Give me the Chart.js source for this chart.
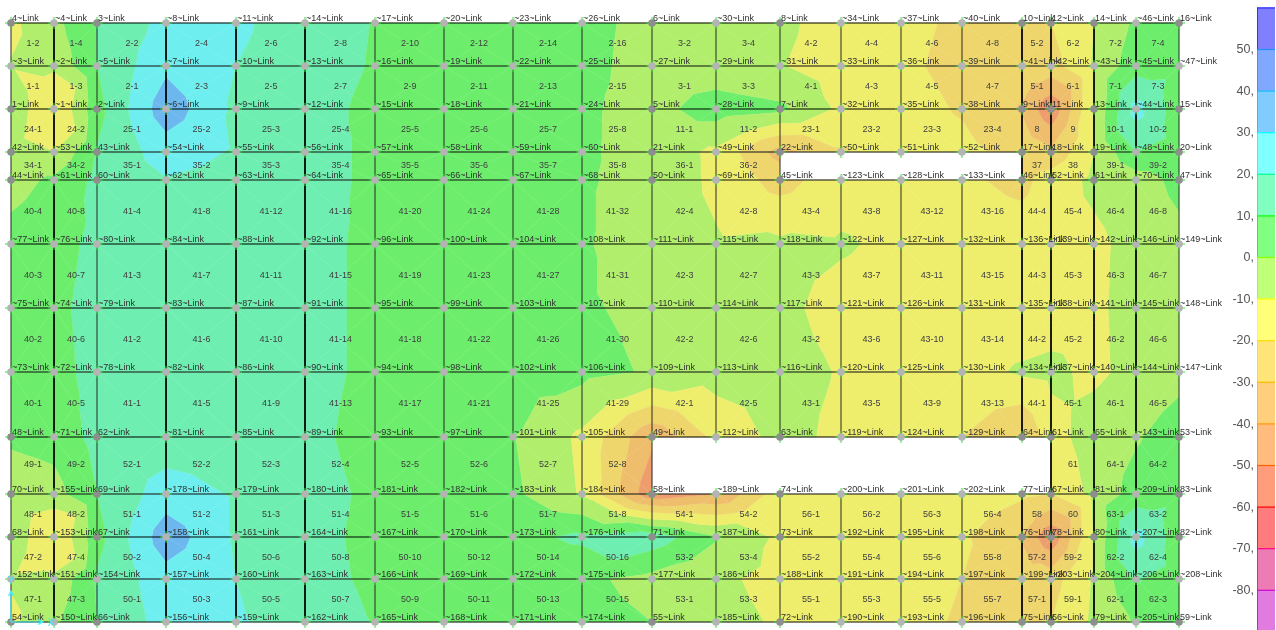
<!DOCTYPE html>
<html><head><meta charset="utf-8">
<style>html,body{margin:0;padding:0;background:#fff;overflow:hidden}#w{width:1276px;height:630px;position:relative}canvas{filter:blur(0.3px)}</style>
<script src="https://cdn.jsdelivr.net/npm/chart.js@4"></script></head>
<body><div id="w"><canvas id="c"></canvas></div>
<script>
// Model grid coordinates (m)
const gridX=[0,2.15,4.3,7.75,11.25,14.7,18.2,21.65,25.1,28.55,32.05,35.25,38.45,41.5,44.5,47.55,50.55,52,54.15,56.25,58.4];
const gridY=[29.95,27.8,25.65,23.5,22.1,18.9,15.7,12.5,9.25,6.4,4.25,2.15,0];
// Stress values at the nodes, one row per gridY
const row0=[-12,-3,10.5,23,21.5,16,9.5,7,6,3,-3,-6,-8,-14,-17,-22,-24,-20,-10,2,6];
const row1=[-9.5,-8,10,28,20,16,9,7,6,3,-4,-6,-9.5,-14,-18,-23,-24,-24,-9,6,7];
const row2=[-2,-21.5,7,36,18,15,7,5,4,1.5,-3.5,5,2,-12,-16,-21,-31,-48,-9,24,4];
const row3=[-5,-9.9,10.5,25,19,14,8,6,4,1.5,-4,-12,-34,-21,-15,-17,-24,-28,-10,10,5];
const row4=[-4,2,12.4,19.5,17,14,8,6,4,1,-3,-12,-24,-14,-14,-18,-23,-15,-8,-5,3];
const row5=[4,7,12,16,16,13,8,6,4,1,-5,-9,-8,-9,-12,-13,-14,-13,-12,-7,-3];
const row6=[3,8,13,16,16,13,8,6,4,1,-2,-5,-8,-13,-14,-14,-15,-14,-12,-6,-4];
const row7=[3,7,13,16,15,13,8,6,4,3,-1,-6,-7,-10.5,-13,-13,-9,-8,-12,-7,-3];
const row8=[2,4,13,14,14,13,6,5,0.5,-12,-38,-17,-7,-12,-15,-20,-31,-14,-5,-1,5];
const row9=[-7,-4,10,25,19,14,8,6,2,-11,-47,-40,-14,-14,-14,-14,-18,-20,-7,4,7];
const row10=[-2,-21.5,7,36,19,14,7,6,7,12,16,1,-12,-15,-16,-18,-31,-48,-9,24,4];
const row11=[-9,-8,11,26,20,14,8,6,4,2,-3,-8,-13,-14,-16,-20,-25,-24,-9,11,5];
const row12=[-12,-2,10,24,21,16,9.5,7,6,3,0,-7,-11,-14,-17,-21,-24,-20,-8,1,5];
const nodeValues=[row0,row1,row2,row3,row4,row5,row6,row7,row8,row9,row10,row11,row12];
// Values read at shell centres where they differ from the mean of the corners: [row, column, value]
const centreValues=[[1,0,-12],[1,1,-10],[2,0,-13],[2,1,-10],[9,0,-10.5],[9,1,-10],[10,0,-13],[10,1,-10],
 [1,18,6],[1,19,12],[2,18,9],[2,19,13],[9,18,6],[9,19,12],[10,18,9],[10,19,13],
 [1,17,-29],[9,17,-28],[10,9,11]];
// Node labels
const nodes0=["4","~4","3","~8","~11","~14","~17","~20","~23","~26","6","~30","8","~34","~37","~40","10","12","14","~46","16"];
const nodes1=["~3","~2","~5","~7","~10","~13","~16","~19","~22","~25","~27","~29","~31","~33","~36","~39","~41","~42","~43","~45","~47"];
const nodes2=["1","~1","2","~6","~9","~12","~15","~18","~21","~24","5","~28","7","~32","~35","~38","9","11","13","~44","15"];
const nodes3=["42","~53","43","~54","~55","~56","~57","~58","~59","~60","21","~49","22","~50","~51","~52","17","18","19","~48","20"];
const nodes4=["44","~61","60","~62","~63","~64","~65","~66","~67","~68","50","~69","45","~123","~128","~133","46","52","61","~70","47"];
const nodes5=["~77","~76","~80","~84","~88","~92","~96","~100","~104","~108","~111","~115","~118","~122","~127","~132","~136","~139","~142","~146","~149"];
const nodes6=["~75","~74","~79","~83","~87","~91","~95","~99","~103","~107","~110","~114","~117","~121","~126","~131","~135","~138","~141","~145","~148"];
const nodes7=["~73","~72","~78","~82","~86","~90","~94","~98","~102","~106","~109","~113","~116","~120","~125","~130","~134","~137","~140","~144","~147"];
const nodes8=["48","~71","62","~81","~85","~89","~93","~97","~101","~105","49","~112","63","~119","~124","~129","64","61","65","~143","53"];
const nodes9=["70","~155","69","~178","~179","~180","~181","~182","~183","~184","58","~189","74","~200","~201","~202","77","67","81","~209","83"];
const nodes10=["68","~153","67","~158","~161","~164","~167","~170","~173","~176","71","~187","73","~192","~195","~198","76","78","80","~207","82"];
const nodes11=["~152","~151","~154","~157","~160","~163","~166","~169","~172","~175","~177","~186","~188","~191","~194","~197","~199","~203","~204","~206","~208"];
const nodes12=["54","~150","66","~156","~159","~162","~165","~168","~171","~174","55","~185","72","~190","~193","~196","75","56","79","~205","59"];
const nodeNames=[nodes0,nodes1,nodes2,nodes3,nodes4,nodes5,nodes6,nodes7,nodes8,nodes9,nodes10,nodes11,nodes12];
// Shell labels, null = opening
const cells0=["1-2","1-4","2-2","2-4","2-6","2-8","2-10","2-12","2-14","2-16","3-2","3-4","4-2","4-4","4-6","4-8","5-2","6-2","7-2","7-4"];
const cells1=["1-1","1-3","2-1","2-3","2-5","2-7","2-9","2-11","2-13","2-15","3-1","3-3","4-1","4-3","4-5","4-7","5-1","6-1","7-1","7-3"];
const cells2=["24-1","24-2","25-1","25-2","25-3","25-4","25-5","25-6","25-7","25-8","11-1","11-2","23-1","23-2","23-3","23-4","8","9","10-1","10-2"];
const cells3=["34-1","34-2","35-1","35-2","35-3","35-4","35-5","35-6","35-7","35-8","36-1","36-2",null,null,null,null,"37","38","39-1","39-2"];
const cells4=["40-4","40-8","41-4","41-8","41-12","41-16","41-20","41-24","41-28","41-32","42-4","42-8","43-4","43-8","43-12","43-16","44-4","45-4","46-4","46-8"];
const cells5=["40-3","40-7","41-3","41-7","41-11","41-15","41-19","41-23","41-27","41-31","42-3","42-7","43-3","43-7","43-11","43-15","44-3","45-3","46-3","46-7"];
const cells6=["40-2","40-6","41-2","41-6","41-10","41-14","41-18","41-22","41-26","41-30","42-2","42-6","43-2","43-6","43-10","43-14","44-2","45-2","46-2","46-6"];
const cells7=["40-1","40-5","41-1","41-5","41-9","41-13","41-17","41-21","41-25","41-29","42-1","42-5","43-1","43-5","43-9","43-13","44-1","45-1","46-1","46-5"];
const cells8=["49-1","49-2","52-1","52-2","52-3","52-4","52-5","52-6","52-7","52-8",null,null,null,null,null,null,null,"61","64-1","64-2"];
const cells9=["48-1","48-2","51-1","51-2","51-3","51-4","51-5","51-6","51-7","51-8","54-1","54-2","56-1","56-2","56-3","56-4","58","60","63-1","63-2"];
const cells10=["47-2","47-4","50-2","50-4","50-6","50-8","50-10","50-12","50-14","50-16","53-2","53-4","55-2","55-4","55-6","55-8","57-2","59-2","62-2","62-4"];
const cells11=["47-1","47-3","50-1","50-3","50-5","50-7","50-9","50-11","50-13","50-15","53-1","53-3","55-1","55-3","55-5","55-7","57-1","59-1","62-1","62-3"];
const cellNames=[cells0,cells1,cells2,cells3,cells4,cells5,cells6,cells7,cells8,cells9,cells10,cells11];
// Colour scale
const bandEdges=[60,50,40,30,20,10,0,-10,-20,-30,-40,-50,-60,-70,-80,-90];
const scaleTicks=[50,40,30,20,10,0,-10,-20,-30,-40,-50,-60,-70,-80];
const mapColors=["#7070ee","#6c9eee","#6cb8ee","#6eeeee","#6eeeb0","#6cee6c","#b0ee6c","#eeee6c","#eed66c","#eebe6c","#ee9e6c","#ee8a6c","#ee7070","#dc70a8","#d070d0"];
const barFills=["#8080ff","#80a8ff","#80ccff","#80ffff","#80ffc0","#80ff80","#c0ff78","#ffff78","#ffe478","#ffd07c","#ffbc7c","#ff9c7c","#ff7c7c","#ee7cb4","#e07ce0"];
const barLines=["#2020ff","#2090ff","#10c0ff","#00ffff","#00ff90","#00ff00","#90ff00","#ffff00","#ffdc00","#ffb800","#ff9800","#ff6000","#ff0000","#ff0088","#d000d0"];

const R=gridY.length,C=gridX.length;
const centreAt={};centreValues.forEach(([r,c,v])=>{centreAt[r+'_'+c]=v;});
function clip(poly,lo,hi){
  const cut=(p,lim,keepAbove)=>{const o=[];for(let i=0;i<p.length;i++){const a=p[i],b=p[(i+1)%p.length];
    const ia=keepAbove?a.v>=lim:a.v<=lim, ib=keepAbove?b.v>=lim:b.v<=lim;
    if(ia)o.push(a);
    if(ia!==ib){const t=(lim-a.v)/(b.v-a.v);o.push({x:a.x+t*(b.x-a.x),y:a.y+t*(b.y-a.y),v:lim});}}
    return o;};
  let r=cut(poly,lo,true);if(r.length)r=cut(r,hi,false);return r;
}
const contourPlugin={id:'contour',
 beforeDatasetsDraw(ch){
  const g=ch.ctx,X=ch.scales.x,Y=ch.scales.y;
  g.save();g.lineWidth=0.35;g.lineJoin='round';
  for(let r=0;r<R-1;r++)for(let c=0;c<C-1;c++){
    if(cellNames[r][c]===null)continue;
    const P=(i,j)=>({x:X.getPixelForValue(gridX[j]),y:Y.getPixelForValue(gridY[i]),v:nodeValues[i][j]});
    const a=P(r,c),b=P(r,c+1),d=P(r+1,c+1),e=P(r+1,c);
    const cv=centreAt[r+'_'+c];
    const m={x:(a.x+d.x)/2,y:(a.y+d.y)/2,v:cv!==undefined?cv:(a.v+b.v+d.v+e.v)/4};
    for(const tri of [[a,b,m],[b,d,m],[d,e,m],[e,a,m]]){
      for(let k=0;k<mapColors.length;k++){
        const poly=clip(tri,bandEdges[k+1],bandEdges[k]);
        if(poly.length<3)continue;
        g.beginPath();poly.forEach((p,i)=>i?g.lineTo(p.x,p.y):g.moveTo(p.x,p.y));g.closePath();
        g.fillStyle=mapColors[k];g.strokeStyle=mapColors[k];g.fill();g.stroke();
      }
    }
  }
  g.restore();
 },
 afterDatasetsDraw(ch){
  const g=ch.ctx,X=ch.scales.x,Y=ch.scales.y,S=ch.scales.s;
  g.save();
  g.font='9px "Liberation Sans"';g.textBaseline='middle';
  g.fillStyle='#404040';g.textAlign='center';
  for(let r=0;r<R-1;r++)for(let c=0;c<C-1;c++){
    const t=cellNames[r][c];if(t===null)continue;
    g.fillText(t,(X.getPixelForValue(gridX[c])+X.getPixelForValue(gridX[c+1]))/2+0.5,(Y.getPixelForValue(gridY[r])+Y.getPixelForValue(gridY[r+1]))/2-0.7);
  }
  g.textAlign='left';g.fillStyle='#303030';
  for(let r=0;r<R;r++)for(let c=0;c<C;c++){
    g.fillText(nodeNames[r][c]+'~Link',X.getPixelForValue(gridX[c])+1,Y.getPixelForValue(gridY[r])-4.2);
  }
  // colour bar
  for(let k=0;k<barFills.length;k++){
    const t=S.getPixelForValue(bandEdges[k]),b=S.getPixelForValue(bandEdges[k+1]);
    g.fillStyle=barFills[k];g.fillRect(1257,t,18,b-t);
    g.fillStyle=barLines[k];g.fillRect(1257,t-0.5,18,1.2);g.fillRect(1257,t,0.8,b-t);
  }
  g.font='12.5px "Liberation Sans"';g.fillStyle='#555';g.textAlign='right';
  scaleTicks.forEach(v=>g.fillText(v+',',1254,S.getPixelForValue(v)+0.3));
  // global axes marker
  const ox=X.getPixelForValue(gridX[0]),oy=Y.getPixelForValue(gridY[R-1]);
  g.strokeStyle='#40f0ff';g.lineWidth=1.2;g.beginPath();
  g.moveTo(ox,oy);g.lineTo(ox,oy-31);g.moveTo(ox-2.5,oy-26);g.lineTo(ox,oy-31);g.lineTo(ox+2.5,oy-26);
  g.moveTo(ox,oy);g.lineTo(ox+32,oy);g.moveTo(ox+27,oy-2.5);g.lineTo(ox+32,oy);g.lineTo(ox+27,oy+2.5);g.stroke();
  g.font='10px "Liberation Sans"';g.fillStyle='#40e8ff';g.textAlign='center';
  g.fillText('X',ox+40,oy+1);g.fillText('Y',ox,oy-41);
  g.restore();
 }};
const pts=[],dark=[],light=[];
for(let r=0;r<R;r++)for(let c=0;c<C;c++){const p={x:gridX[c],y:gridY[r]};pts.push(p);(nodeNames[r][c][0]==='~'?light:dark).push(p);}
const ds=[];
const thick=[0,1,0,1,1,0,0,1,0,1,0,1,1];
gridY.forEach((y,r)=>ds.push({type:'scatter',showLine:true,pointRadius:0,order:3,borderColor:thick[r]?'rgba(30,30,30,.72)':'#000',borderWidth:thick[r]?1.3:1,data:gridX.map(x=>({x,y}))}));
const darkCol=[1,0,1,0,0,0,1,1,1,1,1,1,1,1,1,1,0,0,0,0,1];
const solid=(r,c)=>(c>0&&cellNames[r][c-1]!==null)||(c<C-1&&cellNames[r][c]!==null);
gridX.forEach((x,c)=>{const d=[];for(let r=0;r<R;r++){d.push({x,y:gridY[r]});if(r<R-1&&!solid(r,c))d.push({x:NaN,y:NaN});}
  ds.push({type:'scatter',showLine:true,pointRadius:0,order:3,spanGaps:false,borderColor:darkCol[c]?'rgba(30,30,30,.72)':'#000',borderWidth:darkCol[c]?1.3:1,data:d});});
ds.push({type:'scatter',order:2,clip:false,data:pts,pointStyle:'cross',pointRadius:6,pointBorderColor:'#30e830',pointBorderWidth:1,showLine:false});
ds.push({type:'scatter',order:1,clip:false,data:light,pointRadius:3.8,pointBackgroundColor:'#b4b4b4',pointBorderColor:'#b4b4b4',pointBorderWidth:0,showLine:false});
ds.push({type:'scatter',order:0,clip:false,data:dark,pointRadius:3.8,pointBackgroundColor:'#8e8e8e',pointBorderColor:'#8e8e8e',pointBorderWidth:0,showLine:false});
new Chart(document.getElementById('c'),{type:'scatter',data:{datasets:ds},plugins:[contourPlugin],options:{
 responsive:true,maintainAspectRatio:false,animation:false,events:[],layout:{padding:0,autoPadding:false},
 plugins:{legend:{display:false},tooltip:{enabled:false},title:{display:false}},
 scales:{x:{type:'linear',display:false,min:-0.55,max:63.25},y:{type:'linear',display:false,min:-0.4,max:31.1},
  s:{type:'linear',axis:'y',display:false,min:-89.57,max:61.875}}}});
</script></body></html>
